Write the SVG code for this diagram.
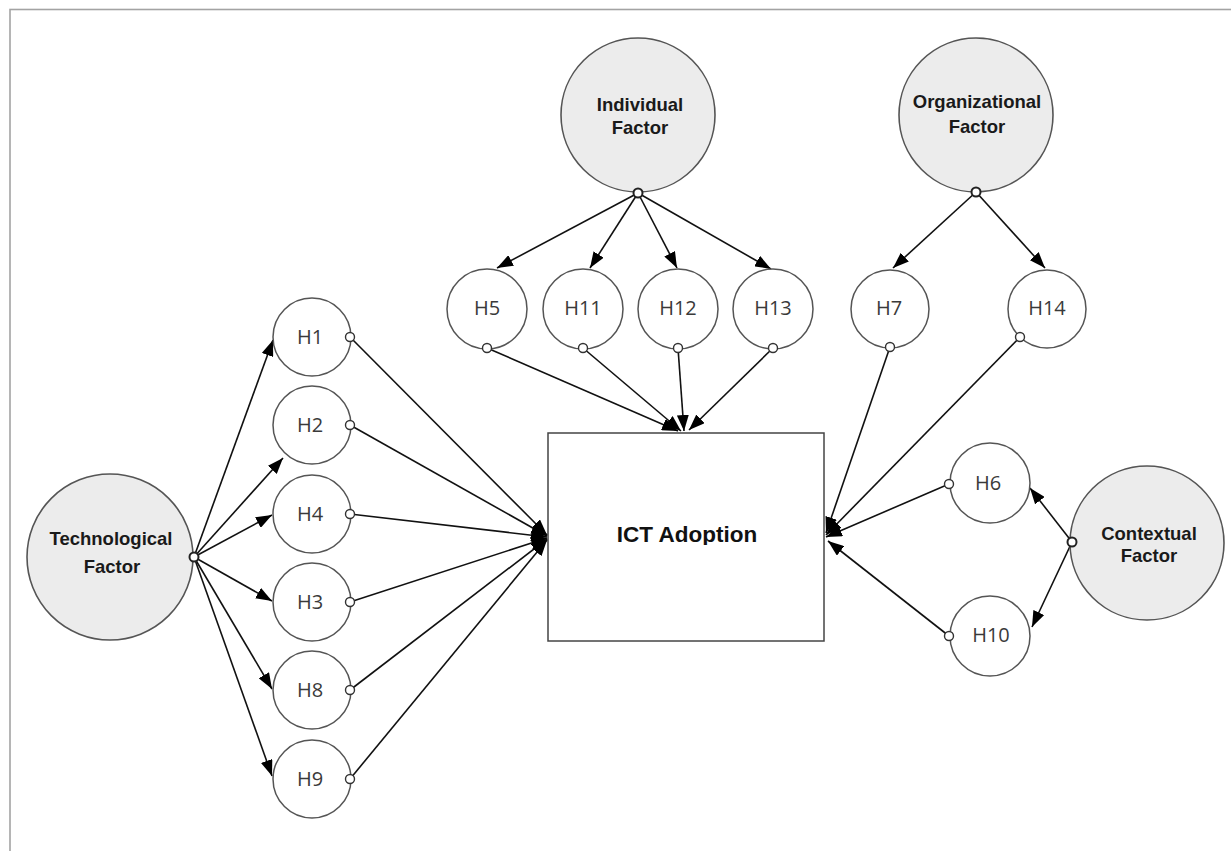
<svg xmlns="http://www.w3.org/2000/svg" width="1231" height="851" viewBox="0 0 1231 851">
<style>
.frame{fill:none;stroke:#a3a3a3;stroke-width:1.6}
.factor{fill:#ececec;stroke:#555;stroke-width:1.6}
.hyp{fill:#fff;stroke:#555;stroke-width:1.5}
.box{fill:#fff;stroke:#444;stroke-width:1.5}
.port{fill:#fff;stroke:#333;stroke-width:1.4}
.fport{fill:#fff;stroke:#222;stroke-width:2}
.con{stroke:#111;stroke-width:1.6;fill:none;marker-end:url(#ah)}
.flab{font-family:"Liberation Sans",Arial,sans-serif;font-weight:bold;font-size:18.5px;fill:#1a1a1a;text-anchor:middle}
.hlab{font-family:"Open Sans","Liberation Sans",sans-serif;font-size:20px;fill:#3a3a3a;text-anchor:middle}
.main{font-family:"Liberation Sans",Arial,sans-serif;font-weight:bold;font-size:22.5px;fill:#111;text-anchor:middle}
</style>
<defs>
<marker id="ah" markerUnits="userSpaceOnUse" markerWidth="16" markerHeight="12" refX="16" refY="6" orient="auto">
<path d="M0,0 L16,6 L0,12 z" fill="#000"/>
</marker>
<clipPath id="ictclip"><rect x="548" y="433" width="276" height="112"/></clipPath>
</defs>
<rect width="1231" height="851" fill="#fff"/>
<rect class="frame" x="10" y="9.5" width="1240" height="860"/>

<g id="ict">
<rect class="box" x="548" y="433" width="276" height="208"/>
<text class="main" x="687" y="542" clip-path="url(#ictclip)">ICT Adoption</text>
</g>

<g id="connectors">
<line class="con" x1="194" y1="557" x2="273" y2="340"/>
<line class="con" x1="194" y1="557" x2="283" y2="458"/>
<line class="con" x1="194" y1="557" x2="272" y2="515"/>
<line class="con" x1="194" y1="557" x2="272" y2="601"/>
<line class="con" x1="194" y1="557" x2="272" y2="689"/>
<line class="con" x1="194" y1="557" x2="272" y2="776"/>
<line class="con" x1="350" y1="337" x2="547" y2="535"/>
<line class="con" x1="350" y1="425" x2="547" y2="536"/>
<line class="con" x1="350" y1="514" x2="547" y2="537"/>
<line class="con" x1="350" y1="602" x2="547" y2="538"/>
<line class="con" x1="350" y1="690" x2="547" y2="539"/>
<line class="con" x1="350" y1="779" x2="547" y2="540"/>
<line class="con" x1="638" y1="193" x2="497" y2="268"/>
<line class="con" x1="638" y1="193" x2="590" y2="268"/>
<line class="con" x1="638" y1="193" x2="677" y2="268"/>
<line class="con" x1="638" y1="193" x2="771" y2="269"/>
<line class="con" x1="487" y1="348" x2="678" y2="431"/>
<line class="con" x1="583" y1="348" x2="681" y2="431"/>
<line class="con" x1="678" y1="348" x2="684" y2="431"/>
<line class="con" x1="773" y1="348" x2="689" y2="430"/>
<line class="con" x1="976" y1="192" x2="893" y2="268"/>
<line class="con" x1="976" y1="192" x2="1045" y2="268"/>
<line class="con" x1="890" y1="347" x2="826" y2="533"/>
<line class="con" x1="1020" y1="337" x2="826" y2="535"/>
<line class="con" x1="949" y1="484" x2="826" y2="537"/>
<line class="con" x1="949" y1="636" x2="828" y2="541"/>
<line class="con" x1="1072" y1="542" x2="1030" y2="488"/>
<line class="con" x1="1072" y1="542" x2="1032" y2="627"/>
</g>

<g id="technological">
<circle class="factor" cx="110" cy="557" r="83"/>
<text class="flab" x="111" y="545">Technological</text>
<text class="flab" x="112" y="573">Factor</text>
<circle class="fport" cx="194" cy="557" r="4.5"/>
</g>
<g id="individual">
<circle class="factor" cx="638" cy="115" r="77"/>
<text class="flab" x="640" y="111">Individual</text>
<text class="flab" x="640" y="134">Factor</text>
<circle class="fport" cx="638" cy="193" r="4.5"/>
</g>
<g id="organizational">
<circle class="factor" cx="976" cy="115" r="77"/>
<text class="flab" x="977" y="108">Organizational</text>
<text class="flab" x="977" y="133">Factor</text>
<circle class="fport" cx="976" cy="192" r="4.5"/>
</g>
<g id="contextual">
<circle class="factor" cx="1147" cy="543" r="77"/>
<text class="flab" x="1149" y="540">Contextual</text>
<text class="flab" x="1149" y="562">Factor</text>
<circle class="fport" cx="1072" cy="542" r="4.5"/>
</g>

<g id="h1"><circle class="hyp" cx="312" cy="337" r="39"/><text class="hlab" x="310" y="344">H1</text><circle class="port" cx="350" cy="337" r="4.5"/></g>
<g id="h2"><circle class="hyp" cx="312" cy="425" r="39"/><text class="hlab" x="310" y="432">H2</text><circle class="port" cx="350" cy="425" r="4.5"/></g>
<g id="h4"><circle class="hyp" cx="312" cy="514" r="39"/><text class="hlab" x="310" y="521">H4</text><circle class="port" cx="350" cy="514" r="4.5"/></g>
<g id="h3"><circle class="hyp" cx="312" cy="602" r="39"/><text class="hlab" x="310" y="609">H3</text><circle class="port" cx="350" cy="602" r="4.5"/></g>
<g id="h8"><circle class="hyp" cx="312" cy="690" r="39"/><text class="hlab" x="310" y="697">H8</text><circle class="port" cx="350" cy="690" r="4.5"/></g>
<g id="h9"><circle class="hyp" cx="312" cy="779" r="39"/><text class="hlab" x="310" y="786">H9</text><circle class="port" cx="350" cy="779" r="4.5"/></g>

<g id="h5"><circle class="hyp" cx="487" cy="309" r="40"/><text class="hlab" x="487" y="315">H5</text><circle class="port" cx="487" cy="348" r="4.5"/></g>
<g id="h11"><circle class="hyp" cx="583" cy="309" r="40"/><text class="hlab" x="583" y="315">H11</text><circle class="port" cx="583" cy="348" r="4.5"/></g>
<g id="h12"><circle class="hyp" cx="678" cy="309" r="40"/><text class="hlab" x="678" y="315">H12</text><circle class="port" cx="678" cy="348" r="4.5"/></g>
<g id="h13"><circle class="hyp" cx="773" cy="309" r="40"/><text class="hlab" x="773" y="315">H13</text><circle class="port" cx="773" cy="348" r="4.5"/></g>
<g id="h7"><circle class="hyp" cx="890" cy="309" r="39"/><text class="hlab" x="889" y="315">H7</text><circle class="port" cx="890" cy="347" r="4.5"/></g>
<g id="h14"><circle class="hyp" cx="1047" cy="309" r="39"/><text class="hlab" x="1047" y="315">H14</text><circle class="port" cx="1020" cy="337" r="4.5"/></g>
<g id="h6"><circle class="hyp" cx="990" cy="483" r="40"/><text class="hlab" x="988" y="490">H6</text><circle class="port" cx="949" cy="484" r="4.5"/></g>
<g id="h10"><circle class="hyp" cx="990" cy="636" r="40"/><text class="hlab" x="991" y="642">H10</text><circle class="port" cx="949" cy="636" r="4.5"/></g>
</svg>
